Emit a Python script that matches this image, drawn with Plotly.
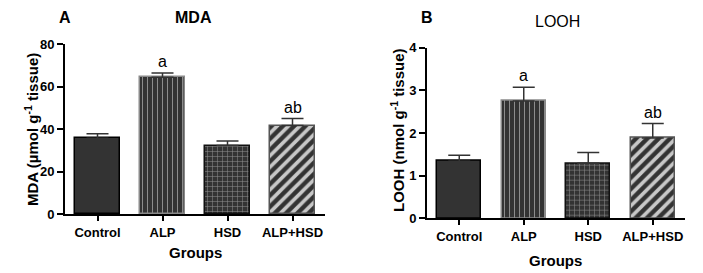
import plotly.graph_objects as go

categories = ["Control", "ALP", "HSD", "ALP+HSD"]
mda_mean = [35.6, 64.3, 32.2, 41.6]
mda_err = [2.2, 2.1, 2.2, 3.3]
looh_mean = [1.34, 2.75, 1.29, 1.88]
looh_err = [0.14, 0.32, 0.25, 0.34]
letters = ["", "a", "", "ab"]

FONT = "Liberation Sans, Arial, sans-serif"

patterns = [
    dict(shape="", fillmode="replace"),
    dict(shape="|", bgcolor="#333333", fgcolor="#8c8c8c", size=5, solidity=0.2, fillmode="replace"),
    dict(shape="+", bgcolor="#333333", fgcolor="#8c8c8c", size=5, solidity=0.2, fillmode="replace"),
    dict(shape="/", bgcolor="#333333", fgcolor="#c8c8c8", size=8, solidity=0.45, fillmode="replace"),
]
outline = ["#000000", "#8a8a8a", "#111111", "#555555"]

fig = go.Figure()


def add_panel(means, errs, xa, ya):
    for i, cat in enumerate(categories):
        fig.add_trace(go.Bar(
            x=[cat], y=[means[i]],
            xaxis=xa, yaxis=ya,
            width=0.68,
            marker=dict(color="#333333", line=dict(color=outline[i], width=1.5),
                        pattern=patterns[i]),
            error_y=dict(type="data", symmetric=False, array=[errs[i]], arrayminus=[0],
                         color="#333333", thickness=1.5, width=11),
            showlegend=False, hoverinfo="skip",
        ))
        if letters[i]:
            fig.add_annotation(x=cat, y=means[i] + errs[i], xref=xa, yref=ya,
                               text=letters[i], showarrow=False, yanchor="bottom",
                               yshift=1, font=dict(family=FONT, size=16, color="#000"))


add_panel(mda_mean, mda_err, "x", "y")
add_panel(looh_mean, looh_err, "x2", "y2")

# page body margin of 8px: figure placed at (8, 8) in the window
OFF = 8
W, H = 703 - OFF, 273 - OFF


def px(X):
    return (X - OFF) / W


def py(Y):
    return 1 - (Y - OFF) / H


line_common = dict(showline=True, linecolor="#000", linewidth=2, ticks="outside",
                   tickcolor="#000", tickwidth=2, showgrid=False, zeroline=False,
                   automargin=False)
xfont = dict(family=FONT, size=13, color="#000", weight="bold")
yfont = dict(family=FONT, size=13, color="#000", weight="bold")

fig.update_layout(
    template="none",
    width=W, height=H, margin=dict(l=0, r=0, t=0, b=0, pad=0),
    plot_bgcolor="white", paper_bgcolor="white",
    bargap=0,
    xaxis=dict(domain=[px(65), px(325)], anchor="y", range=[-0.5, 3.5],
               type="category", ticklen=5, tickfont=xfont, **line_common),
    yaxis=dict(domain=[py(214), py(44)], anchor="x", range=[0, 80],
               tickvals=[0, 20, 40, 60, 80], ticklen=6, tickfont=yfont, **line_common),
    xaxis2=dict(domain=[px(427), px(685)], anchor="y2", range=[-0.5, 3.5],
                type="category", ticklen=5, tickfont=xfont, **line_common),
    yaxis2=dict(domain=[py(218.3), py(47.7)], anchor="x2", range=[0, 4],
                tickvals=[0, 1, 2, 3, 4], ticklen=6, tickfont=yfont, **line_common),
)


def ann(x, y, text, size, bold=True, angle=0):
    fig.add_annotation(x=px(x), y=py(y), xref="paper", yref="paper", text=text,
                       showarrow=False, xanchor="center", yanchor="middle", textangle=angle,
                       font=dict(family=FONT, size=size, color="#000",
                                 weight="bold" if bold else "normal"))


ann(65, 18, "A", 16)
ann(193, 18, "MDA", 16)
ann(427, 18, "B", 16)
ann(557, 22, "LOOH", 16, bold=False)
ann(195, 252, "Groups", 15)
ann(555, 260, "Groups", 15)
ann(31, 130, "MDA (µmol g<sup>-1</sup> tissue)", 15, angle=-90)
ann(397, 130, "LOOH (nmol g<sup>-1</sup> tissue)", 15, angle=-90)

fig.write_html("out.html")
